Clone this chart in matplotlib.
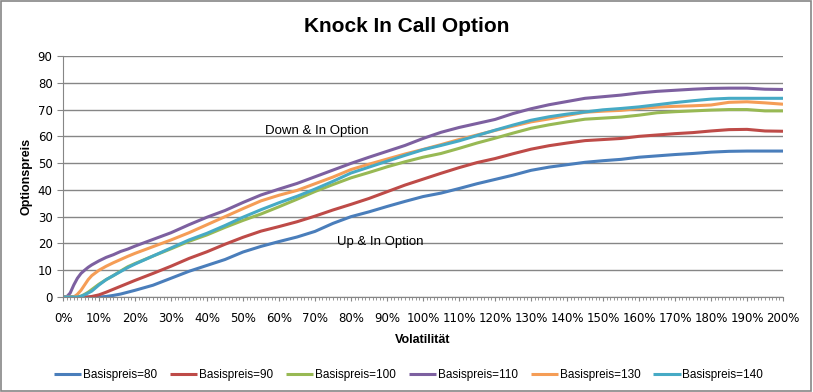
import numpy as np
import matplotlib
matplotlib.use("Agg")
import matplotlib.pyplot as plt
from matplotlib.patches import Rectangle

# volatility in percent
vol = [0, 1, 2, 3, 4, 5, 6, 7, 8, 10, 12, 14, 16, 18, 20,
       25, 30, 35, 40, 45, 50, 55, 60, 65, 70, 75, 80, 85, 90, 95, 100,
       105, 110, 115, 120, 125, 130, 135, 140, 145, 150, 155, 160, 165, 170,
       175, 180, 185, 190, 195, 200]

k80 = [0, 0, 0, 0, 0, 0, 0, 0, 0, 0, 0.2, 0.6, 1.1, 1.8, 2.5,
       4.4, 7, 9.6, 11.8, 14, 16.8, 18.9, 20.7, 22.4, 24.5, 27.5, 30, 31.8, 33.8, 35.7, 37.5,
       38.8, 40.5, 42.3, 43.9, 45.5, 47.3, 48.5, 49.4, 50.3, 50.9, 51.4, 52.2, 52.7, 53.2,
       53.6, 54.1, 54.4, 54.5, 54.5, 54.5]
k90 = [0, 0, 0, 0, 0, 0, 0, 0, 0.2, 0.8, 1.8, 2.9, 4, 5.1, 6.2,
       8.8, 11.5, 14.4, 16.9, 19.7, 22.3, 24.6, 26.3, 28.1, 30.2, 32.5, 34.6, 36.8, 39.3, 41.8, 44,
       46.2, 48.3, 50.2, 51.7, 53.5, 55.2, 56.5, 57.5, 58.4, 58.8, 59.2, 60, 60.5, 61,
       61.4, 62, 62.5, 62.6, 62, 61.9]
k100 = [0, 0, 0, 0, 0, 0.3, 1, 1.8, 2.8, 4.8, 6.5, 8, 9.7, 11.3, 12.5,
        15.3, 18, 20.8, 23.2, 26, 28.6, 31, 33.7, 36.5, 39.4, 42, 44.5, 46.5, 48.6, 50.5, 52.2,
        53.6, 55.5, 57.5, 59.3, 61.2, 63, 64.3, 65.4, 66.4, 66.8, 67.2, 67.9, 68.8, 69.2,
        69.5, 69.8, 70, 70, 69.5, 69.5]
k110 = [0, 0, 1.5, 4.5, 7, 8.8, 10, 11.1, 12, 13.5, 14.8, 15.8, 17, 17.9, 19,
        21.5, 24, 27, 29.8, 32.3, 35.3, 38.1, 40.3, 42.4, 44.9, 47.4, 49.9, 52.2, 54.4, 56.6, 59.2,
        61.5, 63.3, 64.8, 66.3, 68.5, 70.3, 71.8, 73, 74.2, 74.8, 75.4, 76.2, 76.8, 77.2,
        77.6, 77.9, 78, 78, 77.6, 77.5]
k130 = [0, 0, 0, 0, 1, 2.5, 4.5, 6.5, 8, 10, 11.5, 12.8, 14, 15.2, 16.3,
        18.8, 21.3, 24, 27, 30, 33, 35.9, 38, 39.8, 42.3, 44.8, 47.6, 49.6, 51.5, 53.4, 55.1,
        56.9, 58.8, 60.5, 62.2, 63.8, 65.4, 66.5, 67.8, 69, 69.4, 69.7, 70.4, 70.9, 71.2,
        71.4, 71.7, 72.7, 72.9, 72.5, 72]
k140 = [0, 0, 0, 0, 0, 0.3, 0.8, 1.5, 2.2, 4.5, 6.5, 8, 9.5, 11, 12.3,
        15.3, 18.3, 21.3, 23.8, 26.7, 29.8, 32.6, 35.2, 37.6, 40.3, 43.2, 46.3, 48.5, 50.7, 52.9, 55,
        56.6, 58.3, 60.3, 62.3, 64.2, 66, 67.3, 68.3, 69.1, 69.9, 70.4, 71, 71.8, 72.6,
        73.3, 73.9, 74.2, 74.2, 74.2, 74.2]

labels = ["Basispreis=80", "Basispreis=90", "Basispreis=100",
          "Basispreis=110", "Basispreis=130", "Basispreis=140"]
colors = ["#4A7EBB", "#BE4B48", "#98B954", "#7D60A0", "#F59D56", "#46AAC5"]

narrow = ["Liberation Sans Narrow", "Liberation Sans", "DejaVu Sans"]

fig = plt.figure(figsize=(8.13, 3.92), dpi=100)
fig.patches.append(Rectangle((0.001, 0.002), 0.997, 0.996, transform=fig.transFigure,
                             fill=False, edgecolor="#868686", linewidth=1.2))
ax = fig.add_axes([63 / 813, 1 - 297 / 392, 720 / 813, 241 / 392])

for ys, lab, c in zip([k80, k90, k100, k110, k130, k140], labels, colors):
    ax.plot(vol, ys, color=c, linewidth=2.2, label=lab, solid_capstyle="butt")

ax.set_xlim(0, 200)
ax.set_ylim(0, 90)
ax.set_yticks(np.arange(0, 91, 10))
ax.set_xticks(np.arange(0, 201, 10))
ax.set_xticklabels([f"{v}%" for v in range(0, 201, 10)])
ax.set_xticks(np.arange(0, 201, 1), minor=True)
ax.tick_params(axis="x", which="both", direction="out", length=3, color="#868686",
               labelsize=8.5, pad=8)
ax.tick_params(axis="x", which="minor", length=2)
ax.tick_params(axis="y", direction="out", length=4, color="#868686", labelsize=8.5)
ax.grid(axis="y", color="#868686", linewidth=1)
ax.set_axisbelow(True)
for s in ["top", "right"]:
    ax.spines[s].set_visible(False)
for s in ["left", "bottom"]:
    ax.spines[s].set_color("#868686")

ax.set_xlabel("Volatilität", fontsize=9, fontweight="bold", family=narrow, labelpad=6)
ax.set_ylabel("Optionspreis", fontsize=9, fontweight="bold", family=narrow, labelpad=4)
fig.text(0.5, 1 - 27 / 392, "Knock In Call Option", ha="center", va="center",
         fontsize=15, fontweight="bold", family=narrow)

ax.text(70.5, 62, "Down & In Option", ha="center", va="center", fontsize=9.5, family=narrow)
ax.text(88, 20.5, "Up & In Option", ha="center", va="center", fontsize=9.5, family=narrow)

ax.legend(loc="center", bbox_to_anchor=(0.48, -0.325), ncol=6, frameon=False,
          prop={"family": narrow, "size": 8.5}, handlelength=2.3,
          columnspacing=1.1, handletextpad=0.15)

fig.savefig("out.png", dpi=100)
